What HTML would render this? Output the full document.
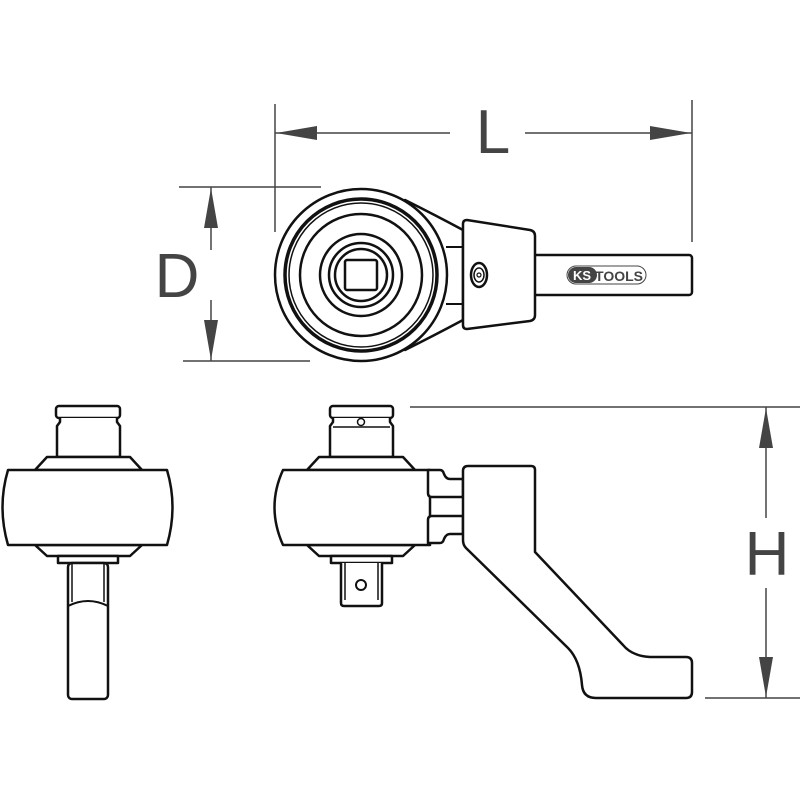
<!DOCTYPE html>
<html><head><meta charset="utf-8"><style>html,body{margin:0;padding:0;background:#fff}svg{display:block}</style></head>
<body>
<svg width="800" height="800" viewBox="0 0 800 800" xmlns="http://www.w3.org/2000/svg">
<g stroke="#444" stroke-width="1.5" fill="none">
  <line x1="275" y1="104" x2="275" y2="232"/>
  <line x1="692" y1="100" x2="692" y2="242"/>
  <line x1="275" y1="133" x2="450" y2="133"/>
  <line x1="525" y1="133" x2="692" y2="133"/>
  <line x1="179" y1="187" x2="321" y2="187"/>
  <line x1="183" y1="361" x2="310" y2="361"/>
  <line x1="211" y1="187" x2="211" y2="250"/>
  <line x1="211" y1="300" x2="211" y2="361"/>
  <line x1="410" y1="407" x2="800" y2="407"/>
  <line x1="705" y1="698" x2="800" y2="698"/>
  <line x1="766" y1="407" x2="766" y2="518"/>
  <line x1="766" y1="588" x2="766" y2="698"/>
</g>
<g fill="#444">
  <polygon points="276,133 317,126 317,140"/>
  <polygon points="691,133 650,126 650,140"/>
  <polygon points="211,188 204,228 218,228"/>
  <polygon points="211,360 204,320 218,320"/>
  <polygon points="766,408 759,448 773,448"/>
  <polygon points="766,697 759,657 773,657"/>
</g>
<g font-family="Liberation Sans, sans-serif" font-size="62" fill="#444" text-anchor="middle">
  <text x="493" y="153">L</text>
  <text x="177" y="297">D</text>
  <text x="767" y="575">H</text>
</g>

<g stroke="#111" stroke-width="2.5" fill="#fff" stroke-linejoin="round">
  <path d="M405,200 Q435,215 463,230 L463,320 Q435,335 405,350 Z"/>
  <circle cx="361" cy="275" r="86"/>
  <circle cx="361" cy="275" r="76" stroke-width="3.5"/>
  <circle cx="361" cy="275" r="72" stroke-width="1.5"/>
  <circle cx="361" cy="275" r="61"/>
  <circle cx="361" cy="275" r="41"/>
  <circle cx="361" cy="275" r="32"/>
  <circle cx="361" cy="275" r="26"/>
  <rect x="345" y="260" width="32" height="30" rx="2"/>
  <line x1="446" y1="247" x2="463" y2="247" stroke-width="2"/>
  <line x1="446" y1="304" x2="463" y2="304" stroke-width="2"/>
  <rect x="530" y="255" width="162" height="40" rx="3"/>
  <path d="M467,220 L530,230 Q535,231 535,236 L535,315 Q535,320 530,321 L467,329 Q463,329 463,325 L463,224 Q463,220 467,220 Z"/>
  <ellipse cx="479" cy="275" rx="8" ry="12"/>
  <ellipse cx="479" cy="275" rx="5" ry="7" stroke-width="1.5"/>
  <circle cx="479" cy="275" r="2" stroke-width="1.2"/>
</g>
<rect x="567" y="266" width="79" height="18" rx="9" fill="#fff" stroke="#444" stroke-width="1"/>
<rect x="568" y="267" width="29" height="16" rx="8" fill="#444"/>
<text x="582" y="280" font-family="Liberation Sans, sans-serif" font-size="13" font-weight="bold" fill="#fff" text-anchor="middle">KS</text>
<text x="619" y="281" font-family="Liberation Sans, sans-serif" font-size="14" font-weight="bold" fill="#444" text-anchor="middle">TOOLS</text>

<g stroke="#111" stroke-width="2.5" fill="#fff" stroke-linejoin="round">
  <rect x="56" y="406" width="64" height="12" rx="3"/>
  <path d="M60,418 L60,422 L57,426 L57,457 L120,457 L120,426 L117,422 L117,418"/>
  <path d="M35,470 L47,457 L130,457 L142,470 Z"/>
  <path d="M35,545 L47,556 L130,556 L142,545 Z"/>
  <path d="M8,470 L167,470 Q178,507 167,545 L8,545 Q-3,507 8,470 Z"/>
  <rect x="58" y="556" width="60" height="7"/>
  <rect x="68" y="563" width="40" height="136" rx="4"/>
  <line x1="72" y1="563" x2="72" y2="602" stroke-width="1.5"/>
  <line x1="104" y1="563" x2="104" y2="602" stroke-width="1.5"/>
  <path d="M68,606 Q88,596 108,606" stroke-width="2"/>
</g>

<g stroke="#111" stroke-width="2.5" fill="#fff" stroke-linejoin="round">
  <rect x="330" y="406" width="63" height="12" rx="3"/>
  <path d="M333,418 L333,422 L330,426 L330,457 L393,457 L393,426 L390,422 L390,418"/>
  <circle cx="361" cy="422" r="3.5" stroke-width="1.5"/>
  <line x1="333" y1="427" x2="390" y2="427" stroke-width="1.5"/>
  <path d="M307,470 L319,457 L403,457 L415,470 Z"/>
  <path d="M307,545 L319,556 L403,556 L415,545 Z"/>
  <path d="M283,470 L430,470 L430,545 L283,545 Q266,507 283,470 Z"/>
  <rect x="331" y="556" width="61" height="7"/>
  <path d="M341,563 L341,603 Q341,606 344,606 L379,606 Q382,606 382,603 L382,563"/>
  <line x1="345" y1="563" x2="345" y2="600" stroke-width="1.5"/>
  <line x1="378" y1="563" x2="378" y2="600" stroke-width="1.5"/>
  <circle cx="361" cy="585" r="5" stroke-width="2"/>
  <path d="M428,470 L440,470 Q443,470 444,474 Q446,479 450,479 L463,479 L463,497 L432,497 Q428,497 428,493 Z"/>
  <path d="M428,543 L440,543 Q443,543 444,539 Q446,534 450,534 L463,534 L463,516 L432,516 Q428,516 428,520 Z"/>
  <path d="M468,466 L531,466 Q535,466 535,470 L535,552 L623,645 Q632,656 650,657 L686,657 Q692,657 692,663 L692,692 Q692,698 686,698 L596,698 Q583,698 582,685 Q580,660 568,648 L466,548 Q463,545 463,540 L463,471 Q463,466 468,466 Z"/>
</g>
</svg>
</body></html>
